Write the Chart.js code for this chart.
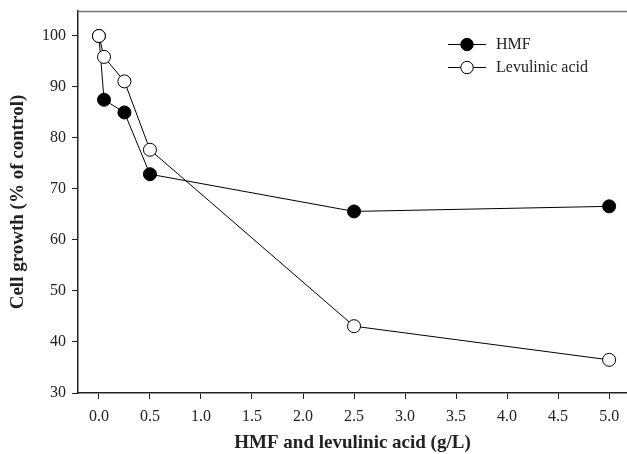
<!DOCTYPE html>
<html>
<head>
<meta charset="utf-8">
<script src="https://cdn.jsdelivr.net/npm/chart.js@4"></script>
<style>
html,body{margin:0;padding:0;background:#fff;}
#wrap{width:627px;height:454px;position:relative;}
</style>
</head>
<body>
<div id="wrap"><canvas id="c" width="627" height="454"></canvas></div>
<script>
const hmfX = [0, 0.05, 0.25, 0.5, 2.5, 5.0];
const hmfY = [100, 87.5, 85.0, 72.9, 65.6, 66.6];
const levX = [0, 0.05, 0.25, 0.5, 2.5, 5.0];
const levY = [100, 95.9, 91.1, 77.7, 43.1, 36.5];
const seriesNames = ['HMF', 'Levulinic acid'];
const xTitle = 'HMF and levulinic acid (g/L)';
const yTitle = 'Cell growth (% of control)';

const serif = "'Liberation Serif', 'Times New Roman', serif";

function pts(xs, ys){ return xs.map((x,i)=>({x:x, y:ys[i]})); }

const topBorder = {
  id:'topBorder',
  afterDraw(chart){
    const {ctx, chartArea:a} = chart;
    ctx.save();
    ctx.strokeStyle = '#777';
    ctx.lineWidth = 1.5;
    ctx.beginPath();
    ctx.moveTo(a.left, a.top + 0.5);
    ctx.lineTo(a.right, a.top + 0.5);
    ctx.stroke();
    ctx.restore();
  }
};

const customLegend = {
  id:'customLegend',
  afterDraw(chart){
    const ctx = chart.ctx;
    const x0 = 448, x1 = 486, tx = 496;
    const ys = [44, 67];
    chart.data.datasets.forEach((ds, i) => {
      const y = ys[i];
      ctx.save();
      ctx.strokeStyle = '#000';
      ctx.lineWidth = 1;
      ctx.beginPath();
      ctx.moveTo(x0, y + 0.5); ctx.lineTo(x1, y + 0.5);
      ctx.stroke();
      ctx.beginPath();
      ctx.arc((x0 + x1)/2, y + 0.5, 6.2, 0, Math.PI*2);
      ctx.fillStyle = ds.pointBackgroundColor;
      ctx.fill();
      ctx.stroke();
      ctx.fillStyle = '#222';
      ctx.font = '16px ' + serif;
      ctx.textBaseline = 'middle';
      ctx.textAlign = 'left';
      ctx.fillText(ds.label, tx, y + 1);
      ctx.restore();
    });
  }
};

function noPad(s){ s.paddingTop = 0; s.paddingBottom = 0; s.paddingLeft = 0; s.paddingRight = 0; }

new Chart(document.getElementById('c'), {
  type: 'scatter',
  data: {
    datasets: [
      { label: seriesNames[0], data: pts(hmfX, hmfY), showLine: true, order: 2,
        borderColor: '#000', borderWidth: 1, pointRadius: 6.5, pointHoverRadius: 6.5,
        pointBackgroundColor: '#000', pointBorderColor: '#000', pointBorderWidth: 1 },
      { label: seriesNames[1], data: pts(levX, levY), showLine: true, order: 1,
        borderColor: '#000', borderWidth: 1, pointRadius: 6.5, pointHoverRadius: 6.5,
        pointBackgroundColor: '#fff', pointBorderColor: '#000', pointBorderWidth: 1 }
    ]
  },
  options: {
    responsive: false,
    animation: false,
    layout: { autoPadding: false, padding: { left: 0, right: 0, top: 11, bottom: 0 } },
    plugins: { legend: { display: false }, tooltip: { enabled: false } },
    scales: {
      x: {
        type: 'linear', min: -0.205, max: 5.175,
        afterFit(s){ s.height = 61; noPad(s); },
        afterBuildTicks(s){ const t=[]; for(let i=0;i<=10;i++) t.push({value:i*0.5}); s.ticks = t; },
        ticks: { callback: v => v.toFixed(1), color: '#222', padding: 8,
                 font: { family: serif, size: 16 }, maxRotation: 0, autoSkip: false },
        grid: { drawOnChartArea: false, drawTicks: true, tickLength: 6, color: '#222', lineWidth: 1 },
        border: { display: true, color: '#222', width: 1.5 },
        title: { display: true, text: xTitle, color: '#222',
                 font: { family: serif, size: 19, weight: 'bold', lineHeight: 1.2 },
                 padding: { top: 0, bottom: 0 } }
      },
      y: {
        type: 'linear', min: 30, max: 104.9,
        afterFit(s){ s.width = 78; noPad(s); },
        afterBuildTicks(s){ const t=[]; for(let v=30;v<=100;v+=10) t.push({value:v}); s.ticks = t; },
        ticks: { color: '#222', padding: 6, font: { family: serif, size: 16 } },
        grid: { drawOnChartArea: false, drawTicks: true, tickLength: 6, color: '#222', lineWidth: 1 },
        border: { display: true, color: '#222', width: 1.5 },
        title: { display: true, text: yTitle, color: '#222',
                 font: { family: serif, size: 19, weight: 'bold', lineHeight: 1.2 },
                 padding: { top: 7, bottom: 0 } }
      }
    }
  },
  plugins: [topBorder, customLegend]
});
</script>
</body>
</html>
